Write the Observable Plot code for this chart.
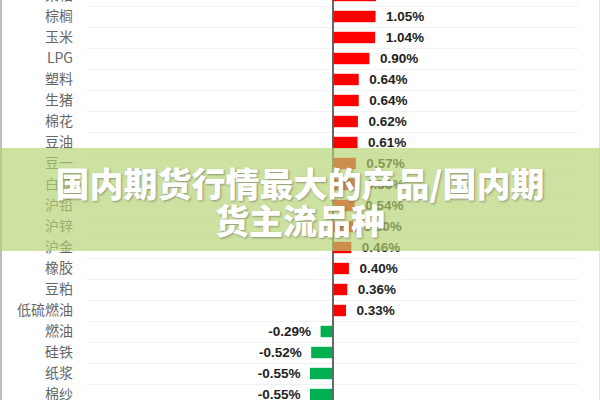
<!DOCTYPE html>
<html>
<head>
<meta charset="utf-8">
<script src="https://cdn.jsdelivr.net/npm/d3@7"></script>
<script src="https://cdn.jsdelivr.net/npm/@observablehq/plot@0.6"></script>
<style>
html, body { margin: 0; padding: 0; background: #fff; width: 600px; height: 400px; overflow: hidden; }
#wrap { position: relative; width: 600px; height: 400px; overflow: hidden; background: #fff; }
#chart { position: absolute; left: 0; top: -17px; }
#frame { position: absolute; left: 0; top: 0; width: 600px; height: 400px; box-sizing: border-box;
  border-left: 2px solid #bdbdbd; border-right: 1px solid #e2e2e2; pointer-events: none; }
#banner { position: absolute; left: 0; top: 148px; width: 600px; height: 103px; box-sizing: border-box; padding-top: 2px;
  background: rgba(181, 210, 113, 0.67); display: flex; align-items: center; justify-content: center;
  text-align: center; font-family: "Noto Sans CJK SC", "Noto Sans", sans-serif; font-weight: 900;
  font-size: 34px; line-height: 37px; color: #fff; text-shadow: 1px 1px 2px rgba(60, 60, 60, 0.45); }
</style>
</head>
<body>
<div id="wrap">
  <div id="chart"></div>
  <div id="frame"></div>
  <div id="banner"><div>国内期货行情最大的产品/国内期<br>货主流品种</div></div>
</div>
<script>
// Categories (top row is cut off by the top edge of the picture)
const categories = ["菜粕", "棕榈", "玉米", "LPG", "塑料", "生猪", "棉花", "豆油", "豆一", "白糖",
  "沪铅", "沪锌", "沪金", "橡胶", "豆粕", "低硫燃油", "燃油", "硅铁", "纸浆", "棉纱"];
// Daily change, in percent
const changes = [1.06, 1.05, 1.04, 0.90, 0.64, 0.64, 0.62, 0.61, 0.57, 0.56,
  0.54, 0.50, 0.46, 0.40, 0.36, 0.33, -0.29, -0.52, -0.55, -0.55];

const data = categories.map((name, i) => ({ name, value: changes[i] }));
const pos = data.filter(d => d.value >= 0);
const neg = data.filter(d => d.value < 0);
const fmt = d => d.value.toFixed(2) + "%";

const chart = Plot.plot({
  width: 600,
  height: 424,
  marginTop: 0,
  marginBottom: 0,
  marginLeft: 86.5,
  marginRight: 21.5,
  style: { fontFamily: "'Noto Sans CJK SC', 'Noto Sans', sans-serif", fontSize: "14px", color: "#666", background: "transparent" },
  x: { domain: [-6, 6], axis: null },
  y: { domain: categories, padding: 0, label: null, tickSize: 0, tickPadding: 14 },
  marks: [
    Plot.ruleY(categories, { y: d => d, dy: -10.6, stroke: "#f1f1f1" }),
    Plot.barX(pos, { x: "value", y: "name", fill: "#ff0000", insetTop: 4.8, insetBottom: 4.8 }),
    Plot.barX(neg, { x: "value", y: "name", fill: "#00b050", insetTop: 4.8, insetBottom: 4.8 }),
    Plot.ruleX([0], { stroke: "#5a5a5a", strokeWidth: 1.8 }),
    Plot.text(pos, { x: "value", y: "name", text: fmt, textAnchor: "start", dx: 10,
      fill: "#222", fontWeight: "bold", fontSize: 13.5, fontFamily: "'Liberation Sans', sans-serif" }),
    Plot.text(neg, { x: "value", y: "name", text: fmt, textAnchor: "end", dx: -10,
      fill: "#222", fontWeight: "bold", fontSize: 13.5, fontFamily: "'Liberation Sans', sans-serif" })
  ]
});
document.getElementById("chart").appendChild(chart);
</script>
</body>
</html>
